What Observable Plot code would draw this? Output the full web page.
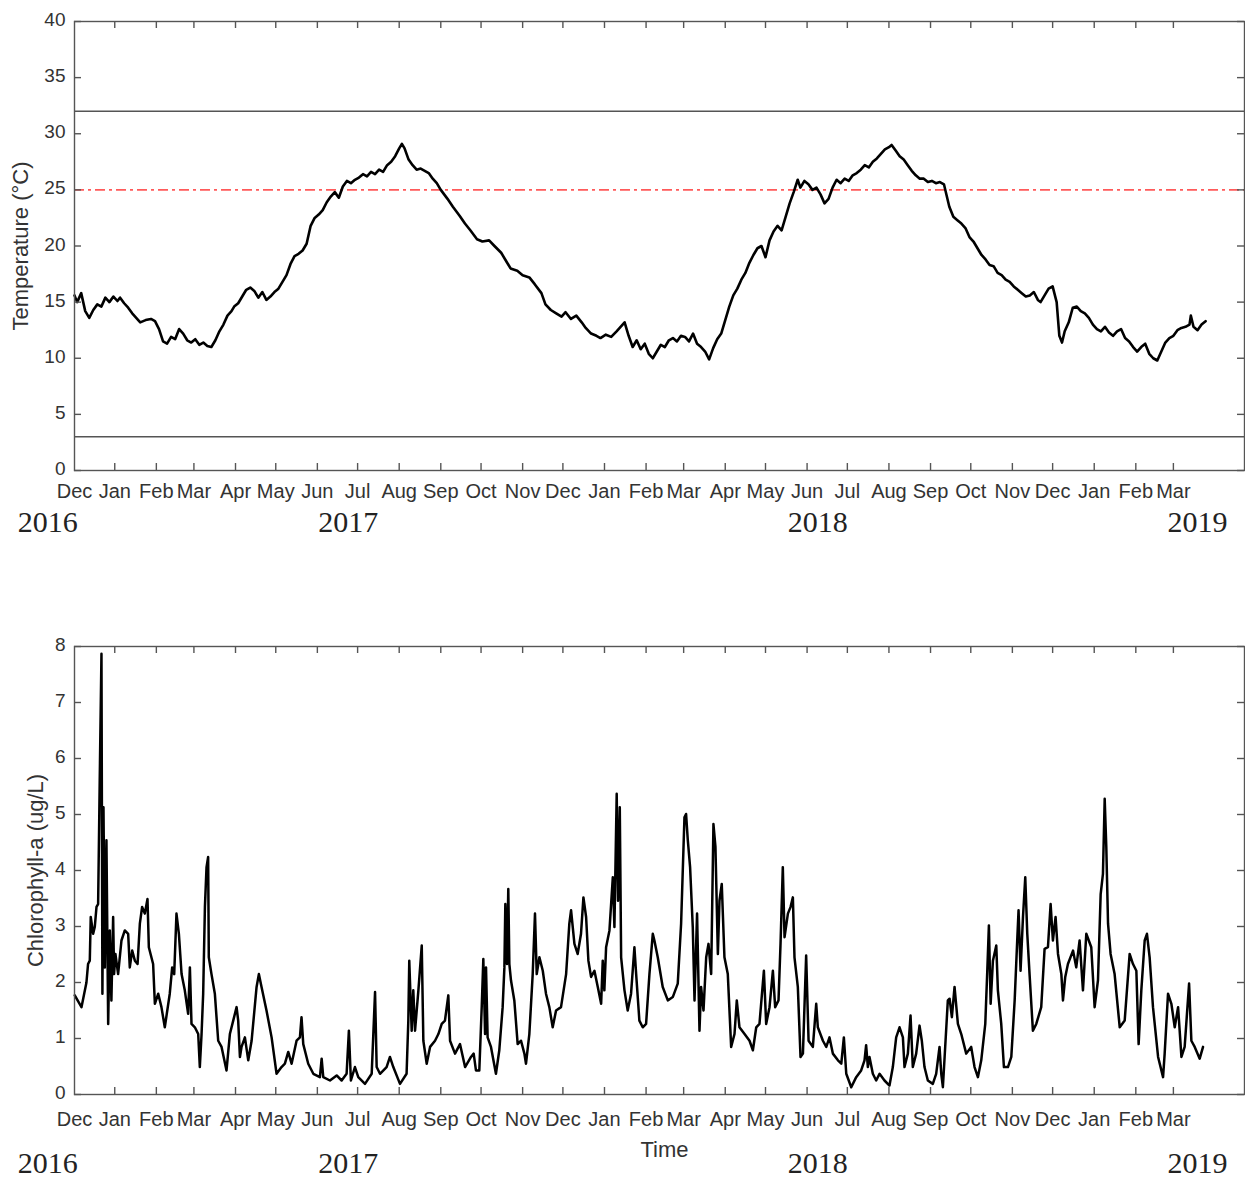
<!DOCTYPE html>
<html>
<head>
<meta charset="utf-8">
<script src="https://cdn.jsdelivr.net/npm/d3@7"></script>
<script src="https://cdn.jsdelivr.net/npm/@observablehq/plot@0.6"></script>
<style>
  html, body { margin: 0; padding: 0; background: #fff; }
  #chart { width: 1245px; }
  #chart svg { display: block; }
</style>
</head>
<body>
<div id="chart"></div>
<script>
// ---------- DATA (days counted from 1 Dec 2016) ----------
const tempDay = [
  1,3,6,9,12,15,18,21,24,27,
  30,33,35,38,41,44,47,50,54,58,
  61,64,67,70,73,76,79,82,85,88,
  91,94,97,100,103,106,109,112,115,118,
  120,123,126,129,132,135,138,141,144,147,
  150,153,156,159,162,165,168,171,174,177,
  180,183,186,189,192,195,198,201,204,207,
  210,213,216,219,222,225,228,231,234,237,
  240,243,245,247,250,253,256,259,262,265,
  268,271,274,279,283,288,292,296,301,305,
  310,314,319,323,326,331,335,340,344,349,
  352,356,360,364,367,371,375,379,382,386,
  390,393,397,401,405,408,411,414,417,420,
  423,426,429,432,435,438,441,444,447,450,
  453,456,459,462,465,468,471,474,477,480,
  483,486,489,492,495,498,501,504,507,510,
  513,516,519,522,525,528,531,534,537,540,
  542,545,548,551,554,557,560,563,566,569,
  572,575,578,581,584,587,590,593,596,599,
  602,605,608,610,613,616,619,622,625,628,
  631,634,637,640,643,646,649,651,653,656,
  659,662,665,668,671,674,677,680,683,686,
  689,692,695,698,701,704,707,710,713,716,
  719,721,724,727,730,733,735,737,739,742,
  745,748,751,754,757,760,763,766,769,772,
  775,778,781,784,787,790,793,796,799,802,
  805,808,811,814,817,820,823,826,829,832,
  833,835,838,841,844
];
const tempC = [
  15.6,15.0,15.8,14.2,13.6,14.3,14.8,14.6,15.4,15.0,
  15.5,15.1,15.4,14.9,14.5,14.0,13.6,13.2,13.4,13.5,
  13.3,12.6,11.5,11.3,11.9,11.7,12.6,12.2,11.6,11.4,
  11.7,11.2,11.4,11.1,11.0,11.6,12.4,13.0,13.8,14.2,
  14.6,14.9,15.5,16.1,16.3,16.0,15.4,15.9,15.2,15.5,
  15.9,16.2,16.8,17.4,18.4,19.1,19.3,19.6,20.2,21.8,
  22.5,22.8,23.2,23.9,24.4,24.8,24.3,25.3,25.8,25.6,
  25.9,26.1,26.4,26.2,26.6,26.4,26.8,26.6,27.2,27.5,
  28.0,28.7,29.1,28.7,27.7,27.2,26.8,26.9,26.7,26.5,
  26.0,25.6,25.0,24.2,23.5,22.7,22.0,21.4,20.6,20.4,
  20.5,20.0,19.4,18.6,18.0,17.8,17.4,17.2,16.6,15.8,
  14.8,14.3,14.0,13.7,14.1,13.5,13.8,13.2,12.7,12.2,
  12.0,11.8,12.1,11.9,12.4,12.8,13.2,12.0,11.0,11.6,
  10.8,11.3,10.4,10.0,10.6,11.2,11.0,11.6,11.8,11.5,
  12.0,11.9,11.5,12.2,11.3,11.0,10.6,9.9,10.9,11.7,
  12.2,13.4,14.6,15.6,16.2,17.0,17.6,18.5,19.2,19.8,
  20.0,19.0,20.5,21.3,21.8,21.4,22.6,23.8,24.8,25.9,
  25.2,25.8,25.5,25.0,25.2,24.6,23.8,24.2,25.2,25.9,
  25.6,26.0,25.8,26.3,26.5,26.8,27.2,27.0,27.5,27.8,
  28.2,28.6,28.8,29.0,28.5,28.0,27.7,27.2,26.7,26.3,
  26.0,26.0,25.7,25.8,25.6,25.7,25.5,24.5,23.5,22.6,
  22.3,22.0,21.6,20.8,20.4,19.8,19.2,18.8,18.3,18.2,
  17.6,17.4,17.0,16.8,16.4,16.1,15.8,15.5,15.6,15.9,
  15.2,15.0,15.6,16.2,16.4,15.0,12.0,11.4,12.4,13.2,
  14.5,14.6,14.2,14.0,13.6,13.0,12.6,12.4,12.8,12.3,
  12.0,12.4,12.6,11.8,11.5,11.0,10.6,11.0,11.3,10.4,
  10.0,9.8,10.6,11.4,11.8,12.0,12.5,12.7,12.8,13.0,
  13.8,12.8,12.5,13.0,13.3
];

const chlDay = [
  1.2,6.2,9.9,11.1,12.4,13.1,14.9,16.1,17.4,18.6,
  19.8,21.1,21.8,22.6,23.6,24.8,26.1,27.3,28.5,29.8,
  30.5,31.5,33.5,36,38.5,41,42.2,44,46,48,
  49.7,51.4,53.4,55.4,56.4,59.6,60.9,63.4,65.8,68.3,
  72,73.8,75.3,77,78.8,80.8,83.2,85.7,87,88.2,
  90.7,93.2,94.4,95.7,96.9,98.2,99.4,100.6,101.1,103.1,
  105.6,108.1,110.6,114.3,116.8,119.3,121.8,123,124.3,125.5,
  128,130.5,133,136.7,138.4,140.4,144.1,147.9,151.6,155.3,
  157.8,160.3,162.8,166.5,169,170.2,171.5,175.2,179,183.9,
  185.2,186.4,191.4,196.4,200.1,203.8,205.5,207,210,212.5,
  217.5,222.5,225,226.2,228.7,233.6,236.1,238.6,243.6,248.5,
  249.8,250.5,252.3,253.5,254.8,257.3,259.8,261,263.5,266,
  269.7,272.2,274.7,277.1,279.6,280.9,284.6,288.3,292.1,
  296.5,298.5,300.2,302.7,304.5,305.7,307,307.7,308.9,311.4,
  315.1,317.6,320.1,321.4,322.1,323.3,324.3,325.1,326.3,328.8,
  331.3,333.8,336.3,337.5,340,342.5,344.2,345.5,347.5,350,
  352.4,354.9,357.4,359.9,363.6,367.4,369.8,371.1,373.6,376,
  378.5,380.3,382.3,384,386,388.5,391,393.5,394.7,395.9,
  397.2,399.7,402.2,403.4,405.1,406.1,407.4,408.4,410.9,413.3,
  415.8,418.3,419.6,422,424.5,427,429.5,432,433.2,435.7,
  439.4,443.2,446.9,450.6,453.1,455.6,456.8,458.1,459.8,461.8,
  463.1,465,466.8,468,469.8,471.8,473.5,475.5,477.2,478.7,
  480.5,481.7,483.4,485.4,487.9,490.4,492.9,494.6,496.6,500.4,
  504.1,506.6,509.1,511.5,514.8,516.5,519,521.5,523.2,525.7,
  527.2,528.9,530.2,532.7,534.7,536.4,537.6,540.1,542.1,543.9,
  546.3,548.1,551.3,553.8,555,558.8,561.3,563.7,566.2,570,
  572.5,574.4,576.2,579.9,583.6,
  587.3,589.8,591,592.3,593.5,596,598.5,601,604.7,608.4,
  610.9,613.4,615.9,618.4,619.6,622.1,624.1,625.8,628.3,630.8,
  632.5,634.5,637,640.7,643.2,645.7,647,648.2,649.5,651.9,
  653.2,654.9,656.9,659.4,661.9,665.6,669.3,671.8,674.3,676.8,
  679.8,681.3,682.5,683.8,685.5,688,689.2,691.7,693.7,696.7,
  699.2,701.7,703.6,704.6,706.1,707.9,709.6,711.1,712.8,715.3,
  717.8,721.5,724,726.5,728.5,730.2,732.2,734,736.5,737.7,
  739.4,741.4,745.2,747.6,750.1,752.6,755.1,758.8,761.3,763.8,
  765.8,767.5,768.8,770,771.3,773.2,776.2,780,783.7,787.4,
  789.9,792.4,794.1,796.1,798.6,800.3,802.3,804.8,808.6,812.3,
  813.5,816,818.5,821,823.5,826,828.4,831.7,833.4,835.9,
  839.6,842.1
];
const chlUgL = [
  1.77,1.56,2.00,2.33,2.39,3.17,2.87,2.99,3.35,3.40,
  5.61,7.87,1.80,5.13,2.27,4.54,1.26,2.93,1.68,3.17,
  2.15,2.51,2.15,2.75,2.93,2.87,2.27,2.57,2.39,2.33,
  3.05,3.35,3.23,3.49,2.63,2.33,1.62,1.80,1.56,1.20,
  1.80,2.27,2.15,3.23,2.87,2.15,1.86,1.44,2.27,1.26,
  1.20,1.08,0.49,1.08,1.80,3.35,4.06,4.24,2.45,2.15,
  1.80,0.96,0.85,0.43,1.08,1.32,1.56,1.32,0.67,0.85,
  1.02,0.61,0.96,1.92,2.15,1.92,1.50,1.02,0.37,0.49,
  0.55,0.76,0.55,0.96,1.02,1.38,0.90,0.55,0.37,0.31,
  0.64,0.31,0.25,0.34,0.25,0.37,1.14,0.25,0.49,0.31,
  0.19,0.37,1.83,0.49,0.37,0.49,0.67,0.49,0.19,0.37,
  1.32,2.39,1.14,1.86,1.14,1.86,2.66,0.96,0.55,0.85,
  0.96,1.08,1.26,1.32,1.77,0.96,0.73,0.90,0.49,
  0.67,0.73,0.43,0.43,1.56,2.42,1.08,2.27,1.02,0.85,
  0.37,0.79,1.56,2.27,3.40,2.33,3.67,2.33,2.04,1.68,
  0.90,0.96,0.73,0.55,1.08,2.15,3.23,2.15,2.45,2.21,
  1.80,1.56,1.20,1.50,1.56,2.15,3.05,3.29,2.69,2.51,
  2.87,3.52,3.17,2.39,2.10,2.21,1.92,1.62,2.39,1.86,
  2.63,2.93,3.88,2.99,5.37,3.46,5.13,2.45,1.86,1.50,
  1.80,2.63,2.15,1.32,1.20,1.26,2.15,2.87,2.75,2.45,
  1.92,1.68,1.74,1.98,3.05,4.95,5.01,4.54,4.06,2.99,
  1.68,3.23,1.14,1.92,1.50,2.45,2.69,2.15,4.83,4.42,
  2.51,3.46,3.76,2.45,2.15,0.85,1.08,1.68,1.20,1.08,
  0.96,0.79,1.20,1.26,2.21,1.26,1.56,2.21,1.56,1.68,
  2.69,4.06,2.81,3.23,3.35,3.52,2.45,1.92,0.67,0.73,
  2.48,0.96,0.85,1.62,1.20,0.96,0.85,1.02,0.73,0.61,
  0.55,1.02,0.37,0.13,0.31,
  0.43,0.61,0.88,0.49,0.67,0.37,0.25,0.37,0.25,0.16,
  0.49,1.02,1.20,1.02,0.49,0.73,1.41,0.49,0.73,1.23,
  0.96,0.49,0.25,0.19,0.37,0.85,0.37,0.13,0.67,1.68,
  1.71,1.38,1.92,1.26,1.08,0.73,0.85,0.49,0.31,0.61,
  1.26,2.21,3.02,1.62,2.39,2.66,1.86,1.26,0.49,0.49,
  0.67,1.68,2.75,3.29,2.21,3.17,3.88,2.87,2.15,1.14,
  1.26,1.56,2.60,2.63,3.40,2.75,3.17,2.51,2.15,1.68,
  2.10,2.33,2.57,2.27,2.75,1.86,2.87,2.63,1.56,2.04,
  3.58,3.94,5.28,4.42,3.05,2.51,2.15,1.20,1.32,2.51,
  2.33,2.21,0.90,1.86,2.75,2.87,2.45,1.56,0.67,0.31,
  0.73,1.80,1.62,1.20,1.56,0.67,0.85,1.98,0.96,0.85,
  0.64,0.85
];

const tempTicks = [0, 5, 10, 15, 20, 25, 30, 35, 40];
const chlTicks = [0, 1, 2, 3, 4, 5, 6, 7, 8];
const limitLines = [32, 3];     // solid grey limits (°C)
const optimumLine = [25];       // red dash-dot (°C)
const monthNames = ["Jan","Feb","Mar","Apr","May","Jun","Jul","Aug","Sep","Oct","Nov","Dec"];
const yearText = ["2016", "2017", "2018", "2019"];
const yearDay = [-19, 205, 555, 838];   // where each year caption sits (days from 1 Dec 2016)

// ---------- helpers ----------
const DAY = 864e5;
const t0 = Date.UTC(2016, 11, 1);
const toDate = d => new Date(t0 + d * DAY);
const temp = tempDay.map((d, i) => ({date: toDate(d), value: tempC[i]}));
const chl = chlDay.map((d, i) => ({date: toDate(d), value: chlUgL[i]}));

const xDomain = [new Date(Date.UTC(2016, 11, 2)), new Date(Date.UTC(2019, 3, 23))];
const monthTicks = d3.utcMonths(new Date(Date.UTC(2017, 0, 1)), new Date(Date.UTC(2019, 2, 2)));
const labelDates = [xDomain[0], ...monthTicks];
const fmtMonth = d => monthNames[d.getUTCMonth()];

const W = 1245, ML = 74, MR = 1;
const plotW = W - ML - MR;
const axisCol = "#555";
const textCol = "#333";
const sans = "'Liberation Sans', Arial, Helvetica, sans-serif";

function panel({data, yDomain, yTicks, yLabel, labelDx, height, marginTop, marginBottom,
                monthPad, yearDy, extras = [], after = [], strokeWidth}) {
  const plotH = height - marginTop - marginBottom;
  return Plot.plot({
    width: W, height, marginLeft: ML, marginRight: MR, marginTop, marginBottom,
    x: {type: "utc", domain: xDomain, axis: null},
    y: {domain: yDomain, axis: null},
    style: {fontFamily: sans, background: "white", color: textCol},
    marks: [
      ...extras,
      Plot.line(data, {x: "date", y: "value", stroke: "black", strokeWidth}),
      Plot.frame({stroke: axisCol, strokeWidth: 1.4}),
      Plot.tickX(monthTicks, {x: d => d, insetTop: plotH - 7, stroke: axisCol, strokeWidth: 1.4}),
      Plot.tickX(monthTicks, {x: d => d, insetBottom: plotH - 7, stroke: axisCol, strokeWidth: 1.4}),
      Plot.tickY(yTicks, {y: d => d, insetRight: plotW - 7, stroke: axisCol, strokeWidth: 1.4}),
      Plot.tickY(yTicks, {y: d => d, insetLeft: plotW - 7, stroke: axisCol, strokeWidth: 1.4}),
      Plot.axisY(yTicks, {tickSize: 0, tickPadding: 9, fontSize: 19, dy: -1.5, color: textCol, label: null,
                          tickFormat: d => String(d)}),
      Plot.axisX(labelDates, {tickSize: 0, tickPadding: monthPad, tickFormat: fmtMonth,
                              fontSize: 20, color: textCol, label: null}),
      Plot.text(yearText, {x: (d, i) => toDate(yearDay[i]), text: d => d, frameAnchor: "bottom",
                           dy: yearDy, fontFamily: "'Liberation Serif', 'Times New Roman', serif",
                           fontSize: 30, fill: "#222"}),
      Plot.text([yLabel], {text: d => d, frameAnchor: "left", textAnchor: "middle", dx: labelDx,
                           rotate: -90, fontSize: 22, fill: textCol}),
      ...after
    ]
  });
}

const topChart = panel({
  data: temp, yDomain: [0, 40], yTicks: tempTicks, yLabel: "Temperature (°C)", labelDx: -54,
  height: 580, marginTop: 21, marginBottom: 110, monthPad: 13, yearDy: 61, strokeWidth: 2.6,
  extras: [
    Plot.ruleY(limitLines, {stroke: "#555", strokeWidth: 1.5}),
    Plot.ruleY(optimumLine, {stroke: "#ff5a5a", strokeWidth: 1.6, strokeDasharray: "10,4,3,4"})
  ]
});

const bottomChart = panel({
  data: chl, yDomain: [0, 8], yTicks: chlTicks, yLabel: "Chlorophyll-a (ug/L)", labelDx: -39,
  height: 600, marginTop: 66, marginBottom: 86, monthPad: 17, yearDy: 78, strokeWidth: 2.5,
  after: [
    Plot.text(["Time"], {text: d => d, frameAnchor: "bottom", dy: 62, dx: 5, fontSize: 22, fill: textCol})
  ]
});

const chart = document.getElementById("chart");
chart.appendChild(topChart);
chart.appendChild(bottomChart);
</script>
</body>
</html>
